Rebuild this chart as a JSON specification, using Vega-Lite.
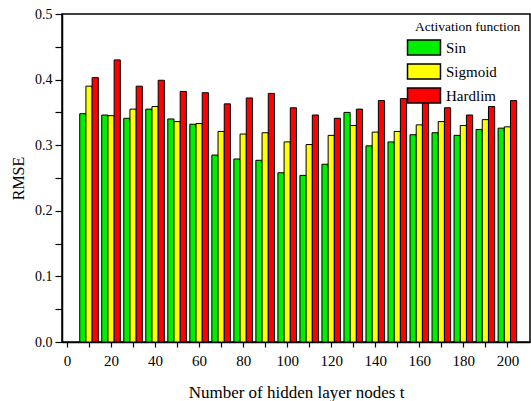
{
  "$schema": "https://vega.github.io/schema/vega-lite/v6.json",
  "width": 468,
  "height": 328,
  "autosize": {"type": "none"},
  "padding": {"left": 62, "top": 14, "right": 1, "bottom": 59},
  "background": "white",
  "config": {
    "font": "Liberation Serif",
    "view": {"stroke": "black", "strokeWidth": 1.5},
    "axis": {"domainColor": "black", "domainWidth": 1.5, "tickColor": "black", "tickWidth": 1.2, "labelColor": "black", "titleColor": "black", "titleFontWeight": "normal", "grid": false}
  },
  "data": {"values": [
    {"t":10,"f":"Sin","v":0.348},{"t":10,"f":"Sigmoid","v":0.390},{"t":10,"f":"Hardlim","v":0.403},
    {"t":20,"f":"Sin","v":0.346},{"t":20,"f":"Sigmoid","v":0.345},{"t":20,"f":"Hardlim","v":0.430},
    {"t":30,"f":"Sin","v":0.341},{"t":30,"f":"Sigmoid","v":0.355},{"t":30,"f":"Hardlim","v":0.390},
    {"t":40,"f":"Sin","v":0.355},{"t":40,"f":"Sigmoid","v":0.359},{"t":40,"f":"Hardlim","v":0.399},
    {"t":50,"f":"Sin","v":0.340},{"t":50,"f":"Sigmoid","v":0.336},{"t":50,"f":"Hardlim","v":0.382},
    {"t":60,"f":"Sin","v":0.332},{"t":60,"f":"Sigmoid","v":0.333},{"t":60,"f":"Hardlim","v":0.380},
    {"t":70,"f":"Sin","v":0.285},{"t":70,"f":"Sigmoid","v":0.321},{"t":70,"f":"Hardlim","v":0.363},
    {"t":80,"f":"Sin","v":0.279},{"t":80,"f":"Sigmoid","v":0.317},{"t":80,"f":"Hardlim","v":0.372},
    {"t":90,"f":"Sin","v":0.277},{"t":90,"f":"Sigmoid","v":0.319},{"t":90,"f":"Hardlim","v":0.379},
    {"t":100,"f":"Sin","v":0.258},{"t":100,"f":"Sigmoid","v":0.305},{"t":100,"f":"Hardlim","v":0.357},
    {"t":110,"f":"Sin","v":0.254},{"t":110,"f":"Sigmoid","v":0.301},{"t":110,"f":"Hardlim","v":0.346},
    {"t":120,"f":"Sin","v":0.271},{"t":120,"f":"Sigmoid","v":0.315},{"t":120,"f":"Hardlim","v":0.341},
    {"t":130,"f":"Sin","v":0.350},{"t":130,"f":"Sigmoid","v":0.330},{"t":130,"f":"Hardlim","v":0.355},
    {"t":140,"f":"Sin","v":0.299},{"t":140,"f":"Sigmoid","v":0.320},{"t":140,"f":"Hardlim","v":0.368},
    {"t":150,"f":"Sin","v":0.305},{"t":150,"f":"Sigmoid","v":0.321},{"t":150,"f":"Hardlim","v":0.371},
    {"t":160,"f":"Sin","v":0.316},{"t":160,"f":"Sigmoid","v":0.331},{"t":160,"f":"Hardlim","v":0.370},
    {"t":170,"f":"Sin","v":0.319},{"t":170,"f":"Sigmoid","v":0.336},{"t":170,"f":"Hardlim","v":0.357},
    {"t":180,"f":"Sin","v":0.315},{"t":180,"f":"Sigmoid","v":0.330},{"t":180,"f":"Hardlim","v":0.346},
    {"t":190,"f":"Sin","v":0.324},{"t":190,"f":"Sigmoid","v":0.339},{"t":190,"f":"Hardlim","v":0.359},
    {"t":200,"f":"Sin","v":0.326},{"t":200,"f":"Sigmoid","v":0.328},{"t":200,"f":"Hardlim","v":0.368}
  ]},
  "encoding": {
    "x": {"field": "t", "type": "quantitative",
      "scale": {"domain": [0, 208], "nice": false, "zero": false},
      "axis": {"title": "Number of hidden layer nodes t", "titleFontSize": 17, "titlePadding": 16, "titleFont": "Liberation Serif",
        "values": [0,10,20,30,40,50,60,70,80,90,100,110,120,130,140,150,160,170,180,190,200],
        "labelExpr": "datum.value % 20 == 0 ? datum.label : ''", "labelFont": "Liberation Serif",
        "labelFontSize": 15, "tickSize": 5, "labelPadding": 6, "labelFlush": false, "labelOverlap": false}},
    "y": {"field": "v", "type": "quantitative",
      "scale": {"domain": [0, 0.5], "nice": false},
      "axis": {"title": "RMSE", "titleFontSize": 16, "titlePadding": 8, "format": ".1f", "titleFont": "Liberation Serif",
        "values": [0,0.05,0.1,0.15,0.2,0.25,0.3,0.35,0.4,0.45,0.5], "labelFont": "Liberation Serif",
        "labelExpr": "round(datum.value*100) % 10 == 0 ? datum.label : ''",
        "labelFontSize": 14, "tickSize": 7, "labelPadding": 3, "labelOverlap": false,
        "encode": {"ticks": {"update": {"x": {"signal": "round(datum.value*100) % 10 == 0 ? -7 : 0"}, "x2": {"value": 4}}}}}},
    "fill": {"field": "f", "type": "nominal",
      "scale": {"domain": ["Sin", "Sigmoid", "Hardlim"], "range": ["#00ee00", "#ffff00", "#ff0000"]},
      "legend": {"title": "Activation function", "orient": "none", "legendX": 353, "legendY": 6,
        "titleFontSize": 13.5, "titleFontWeight": "normal", "titleColor": "black", "titleFont": "Liberation Serif",
        "labelFontSize": 15, "labelColor": "black", "labelFont": "Liberation Serif",
        "symbolType": "M-2,-0.9H2V0.9H-2Z", "symbolSize": 272, "symbolStrokeColor": "black", "symbolStrokeWidth": 1.5,
        "rowPadding": 2, "labelOffset": 13, "titlePadding": 5}}
  },
  "layer": [
    {"transform": [{"filter": "datum.f == 'Sin'"}],
     "mark": {"type": "bar", "width": 6.2, "xOffset": -6.2, "stroke": "black", "strokeWidth": 1}},
    {"transform": [{"filter": "datum.f == 'Sigmoid'"}],
     "mark": {"type": "bar", "width": 6.2, "xOffset": 0, "stroke": "black", "strokeWidth": 1}},
    {"transform": [{"filter": "datum.f == 'Hardlim'"}],
     "mark": {"type": "bar", "width": 6.2, "xOffset": 6.2, "stroke": "black", "strokeWidth": 1}}
  ]
}
